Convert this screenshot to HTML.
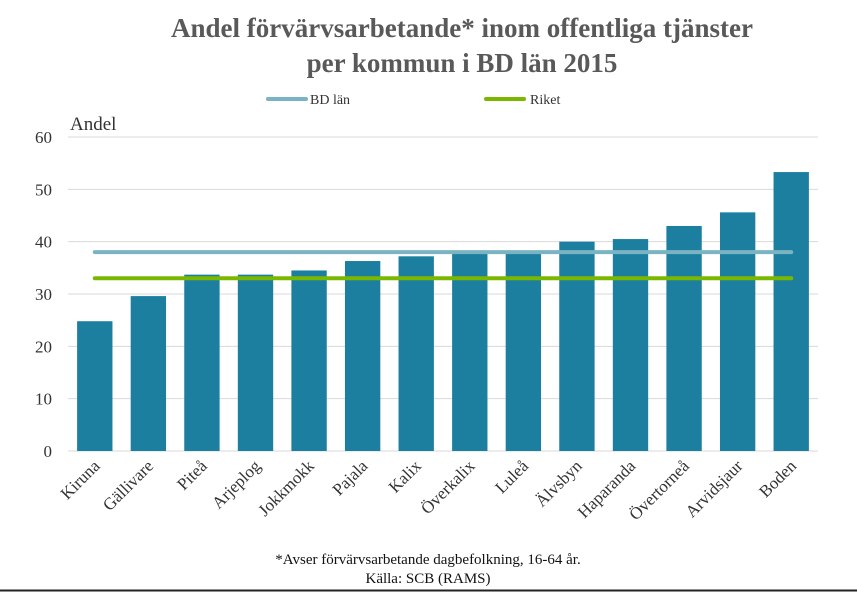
<!DOCTYPE html>
<html><head><meta charset="utf-8"><style>
body{margin:0;background:#fff}
svg{display:block;font-family:"Liberation Serif",serif}
</style></head><body>
<svg id="c" width="857" height="592">
<rect x="0" y="0" width="857" height="592" fill="#fff"/>
<line x1="0" y1="590.5" x2="857" y2="590.5" stroke="#222" stroke-width="2"/>
<text x="462" y="37" text-anchor="middle" font-size="27" font-weight="bold" fill="#595959">Andel förvärvsarbetande* inom offentliga tjänster</text>
<text x="462" y="72" text-anchor="middle" font-size="27" font-weight="bold" fill="#595959">per kommun i BD län 2015</text>
<g>
<line x1="268" y1="99" x2="306" y2="99" stroke="#7ab4c3" stroke-width="4" stroke-linecap="round"/>
<text x="310" y="104" font-size="14" fill="#333">BD län</text>
<line x1="486" y1="99" x2="524" y2="99" stroke="#7ab800" stroke-width="4" stroke-linecap="round"/>
<text x="530" y="104" font-size="14" fill="#333">Riket</text>
</g>
<text x="70" y="130" font-size="19" fill="#333">Andel</text>
<g id="grid"></g><g id="bars"></g><g id="lines"></g><g id="xl"></g>
<text x="428" y="564" text-anchor="middle" font-size="15" fill="#111">*Avser förvärvsarbetande dagbefolkning, 16-64 år.</text>
<text x="428" y="583" text-anchor="middle" font-size="15" fill="#111">Källa: SCB (RAMS)</text>
</svg>
<script>
const categories=["Kiruna","Gällivare","Piteå","Arjeplog","Jokkmokk","Pajala","Kalix","Överkalix","Luleå","Älvsbyn","Haparanda","Övertorneå","Arvidsjaur","Boden"];
const values=[24.8,29.6,33.7,33.7,34.5,36.3,37.2,38.0,38.2,40.0,40.5,43.0,45.6,53.3];
const bdLan=[38];
const riket=[33];
const yTicks=[0,10,20,30,40,50,60];
const NS="http://www.w3.org/2000/svg";
const L=68,R=818,T=137,B=451,yMax=60;
const y=v=>B-(v/yMax)*(B-T);
const bw=(R-L)/categories.length;
const x=i=>L+bw*i;
function mk(t,a,p){const e=document.createElementNS(NS,t);for(const k in a)e.setAttribute(k,a[k]);p.appendChild(e);return e;}
const g=document.getElementById('grid');
yTicks.forEach(v=>{
 const l=mk('line',{x1:L,x2:R,y1:y(v),y2:y(v),stroke:'#d9d9d9','stroke-width':1},g);
 
 
 const t=mk('text',{x:52,y:y(v)+6,'text-anchor':'end','font-size':17,fill:'#333'},g);
 t.textContent=v;
 
 
});
const bg=document.getElementById('bars'),xl=document.getElementById('xl');
values.forEach((v,i)=>{
 const r=mk('rect',{x:x(i)+bw*0.17,width:bw*0.66,y:y(v),height:B-y(v),fill:'#1c7f9f'},bg);
 
 
 const cx=x(i)+bw/2+6, cy=B+16;
 const t=mk('text',{x:cx,y:cy,'text-anchor':'end','font-size':17,fill:'#333',transform:`rotate(-45 ${cx} ${cy})`},xl);
 t.textContent=categories[i];
 
 
});
const lg=document.getElementById('lines');
const x0=x(0)+bw/2,x1=x(categories.length-1)+bw/2;
const l1=mk('line',{x1:x0,x2:x1,y1:y(bdLan[0]),y2:y(bdLan[0]),stroke:'#7ab4c3','stroke-width':4,'stroke-linecap':'round'},lg);


const l2=mk('line',{x1:x0,x2:x1,y1:y(riket[0]),y2:y(riket[0]),stroke:'#7ab800','stroke-width':4,'stroke-linecap':'round'},lg);


</script>
</body></html>
